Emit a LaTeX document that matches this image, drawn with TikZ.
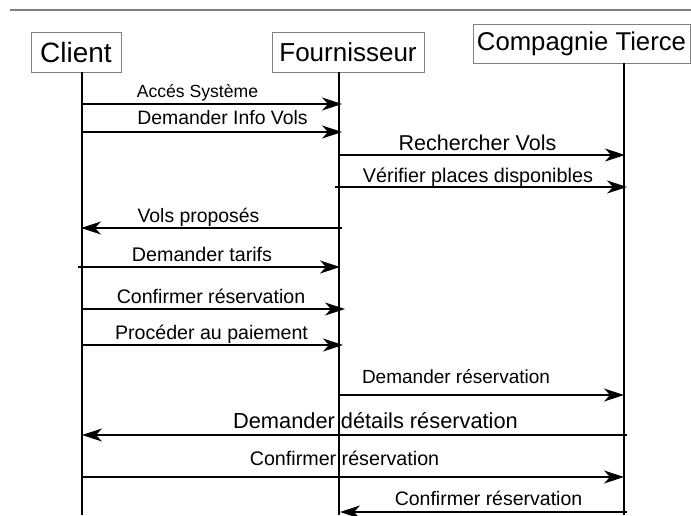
\documentclass[tikz,border=0pt]{standalone}
\usepackage{fontspec}
\setmainfont{Liberation Sans}
\usetikzlibrary{arrows.meta}
\definecolor{boxgray}{HTML}{808080}
\newcommand\pxfont[1]{\fontsize{#1}{#1}\selectfont}
\begin{document}
\begin{tikzpicture}[x=1pt,y=-1pt,
  actor/.style={draw=boxgray, fill=white, line width=1pt, inner sep=0pt},
  lifeline/.style={line width=2.2pt},
  msg/.style={line width=1.2pt, -{Stealth[length=20pt,width=13pt,inset=6pt]}},
  lbl/.style={anchor=base, inner sep=0pt, font=\pxfont{19.5}}
]
\useasboundingbox (0,0) rectangle (691,515);

% separator rule
\coordinate (ruleL) at (10,10);
\coordinate (ruleR) at (691,10);
\draw[boxgray, line width=1.2pt] (ruleL) -- (ruleR);

% actors
\node[actor, minimum width=90pt, minimum height=40pt, font=\pxfont{28}] (client) at (76,52) {Client};
\node[actor, minimum width=152pt, minimum height=40pt, font=\pxfont{26}] (four) at (348,52) {Fournisseur};
\node[actor, minimum width=217pt, minimum height=39pt, font=\pxfont{25.7}] (comp) at (581.5,43.5) {Compagnie Tierce};

% lifelines
\coordinate (clientTop) at (82,72);   \coordinate (clientBot) at (82,515);
\coordinate (fourTop)   at (339,72);  \coordinate (fourBot)   at (339,515);
\coordinate (compTop)   at (624,63);  \coordinate (compBot)   at (624,515);
\draw[lifeline] (clientTop) -- (clientBot);
\draw[lifeline] (fourTop) -- (fourBot);
\draw[lifeline] (compTop) -- (compBot);

% message end points
\coordinate (m1a) at (82,104);   \coordinate (m1b) at (342,104);
\coordinate (m2a) at (82,132);   \coordinate (m2b) at (342,132);
\coordinate (m3a) at (339,155);  \coordinate (m3b) at (625,155);
\coordinate (m4a) at (335,187);  \coordinate (m4b) at (627,187);
\coordinate (m5a) at (342,228);  \coordinate (m5b) at (81,228);
\coordinate (m6a) at (78,267);   \coordinate (m6b) at (340,267);
\coordinate (m7a) at (82,309);   \coordinate (m7b) at (345,309);
\coordinate (m8a) at (82,345);   \coordinate (m8b) at (343,345);
\coordinate (m9a) at (339,395);  \coordinate (m9b) at (624,395);
\coordinate (m10a) at (627,435); \coordinate (m10b) at (82,435);
\coordinate (m11a) at (82,477);  \coordinate (m11b) at (624,477);
\coordinate (m12a) at (627,512); \coordinate (m12b) at (340,512);

% messages
\draw[msg] (m1a) -- (m1b);
\draw[msg] (m2a) -- (m2b);
\draw[msg] (m3a) -- (m3b);
\draw[msg] (m4a) -- (m4b);
\draw[msg] (m5a) -- (m5b);
\draw[msg] (m6a) -- (m6b);
\draw[msg] (m7a) -- (m7b);
\draw[msg] (m8a) -- (m8b);
\draw[msg] (m9a) -- (m9b);
\draw[msg] (m10a) -- (m10b);
\draw[msg] (m11a) -- (m11b);
\draw[msg] (m12a) -- (m12b);

% message labels
\node[lbl, font=\pxfont{17.6}] (l1) at (197.5,97) {Accés Système};
\node[lbl, font=\pxfont{19.4}] (l2) at (222.5,124) {Demander Info Vols};
\node[lbl, font=\pxfont{21.5}] (l3) at (477.5,150) {Rechercher Vols};
\node[lbl, font=\pxfont{19.8}] (l4) at (478,182) {Vérifier places disponibles};
\node[lbl, font=\pxfont{19.4}] (l5) at (198.5,222) {Vols proposés};
\node[lbl, font=\pxfont{19.7}] (l6) at (202,261) {Demander tarifs};
\node[lbl, font=\pxfont{19.6}] (l7) at (211,303) {Confirmer réservation};
\node[lbl, font=\pxfont{19.6}] (l8) at (211.5,339) {Procéder au paiement};
\node[lbl, font=\pxfont{19}] (l9) at (456,383) {Demander réservation};
\node[lbl, font=\pxfont{21.8}] (l10) at (375.5,428) {Demander détails réservation};
\node[lbl, font=\pxfont{19.7}] (l11) at (344.5,465) {Confirmer réservation};
\node[lbl, font=\pxfont{19.5}] (l12) at (488.5,505) {Confirmer réservation};
\end{tikzpicture}
\end{document}
